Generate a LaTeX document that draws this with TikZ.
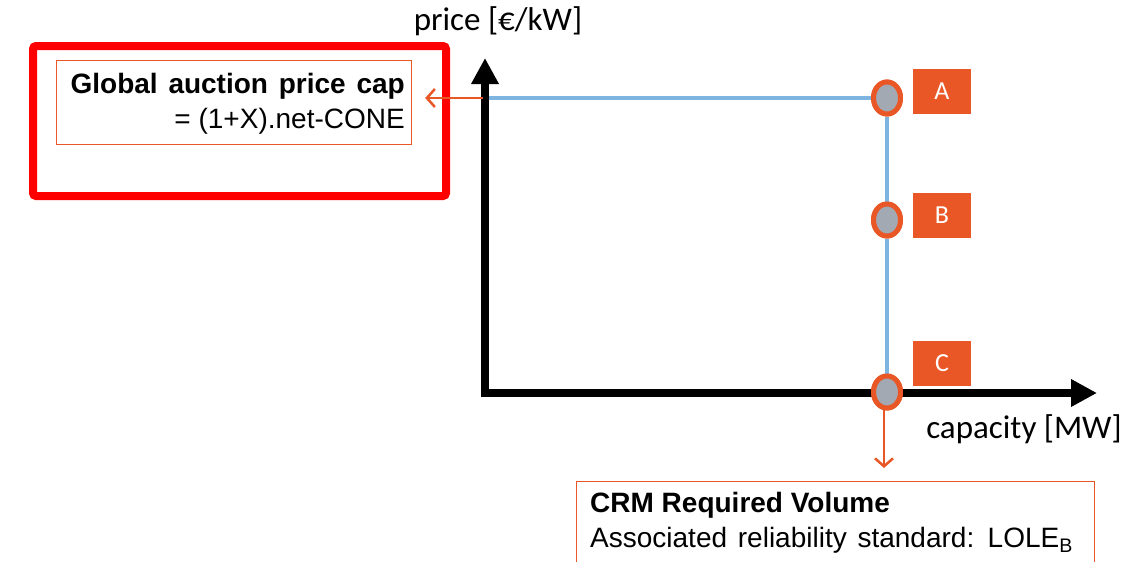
\documentclass[tikz,border=0pt]{standalone}
\usepackage{fontspec}
\setmainfont{Liberation Sans}
\newfontfamily\calib{Carlito}
\usetikzlibrary{arrows.meta,shapes.geometric,calc}
\definecolor{orng}{HTML}{E95726}
\definecolor{bluel}{HTML}{7EB4E0}
\definecolor{grayc}{HTML}{A3A9B3}
\begin{document}
\begin{tikzpicture}[x=1pt,y=-1pt,
  axis/.style={line width=8pt,-{Triangle[length=26pt,width=26pt]}},
  curve/.style={bluel,line width=3.5pt},
  pt/.style={ellipse,draw=orng,fill=grayc,line width=5pt,minimum width=27pt,minimum height=32pt,inner sep=0pt},
  tag/.style={fill=orng,text=white,minimum width=58pt,minimum height=45pt,inner sep=0pt,font=\calib\fontsize{26}{30}\selectfont},
  oarrow/.style={orng,line width=2.5pt,-{Straight Barb[length=8pt,width=18pt,line width=2.5pt]}},
  obox/.style={draw=orng,line width=1.2pt},
  txt/.style={inner sep=0pt,font=\fontsize{28}{34}\selectfont},
  ctxt/.style={inner sep=0pt,font=\calib\fontsize{33}{38}\selectfont}]
\clip (0,0) rectangle (1143,562);
\fill[white] (0,0) rectangle (1143,562);
% red frame
\node[draw=red,line width=8pt,rounded corners=3pt,minimum width=413pt,minimum height=150pt,anchor=north west,inner sep=0pt] (frame) at (29,42) {};
\node[obox,minimum width=355pt,minimum height=84pt,anchor=north west,inner sep=0pt] (cap) at (56,60) {};
\node[txt,anchor=east] (capA) at (405,86) {\textbf{Global\hspace{3pt} auction\hspace{3pt} price\hspace{3pt} cap}};
\node[txt,anchor=east] (capB) at (405,121) {= (1+X).net-CONE};
% axes
\coordinate (O) at (485,393);
\coordinate (ytip) at (485,58);
\coordinate (xtip) at (1097,393);
\draw[axis] (485,397) -- (ytip);
\draw[axis] (481,393) -- (xtip);
\node[ctxt] (ylab) at (498,21) {price [€/kW]};
\node[ctxt] (xlab) at (1024,429) {capacity [MW]};
% points
\coordinate (ya) at (489,98);
\node[pt] (A) at (887,98) {};
\node[pt] (B) at (887,220) {};
\node[pt] (C) at (887,392) {};
\draw[curve] (ya) -- (A.west);
\draw[curve] (A) -- (B);
\draw[curve] (B) -- (C);
\node[pt] at (887,98) {};
\node[pt] at (887,220) {};
\node[pt] at (887,392) {};
\node[tag] (tA) at (942,91) {A};
\node[tag] (tB) at (942,215) {B};
\node[tag] (tC) at (942,363) {C};
% arrows
\coordinate (yax) at (483,98);
\draw[oarrow,shorten >=13pt] (yax) -- (cap.east|-yax);
% CRM box
\node[obox,minimum width=518pt,minimum height=120pt,anchor=north west,inner sep=0pt] (crm) at (576,481) {};
\draw[oarrow,shorten <=-4pt,shorten >=13pt] (C.south-|884,0) -- (crm.north-|884,0);
\node[txt,anchor=west] (crmA) at (590,505) {\textbf{CRM Required Volume}};
\node[txt,anchor=west] (crmB) at (590,540) {Associated\hspace{3pt} reliability\hspace{3pt} standard:\hspace{3pt} LOLE\textsubscript{B}};
\end{tikzpicture}
\end{document}
